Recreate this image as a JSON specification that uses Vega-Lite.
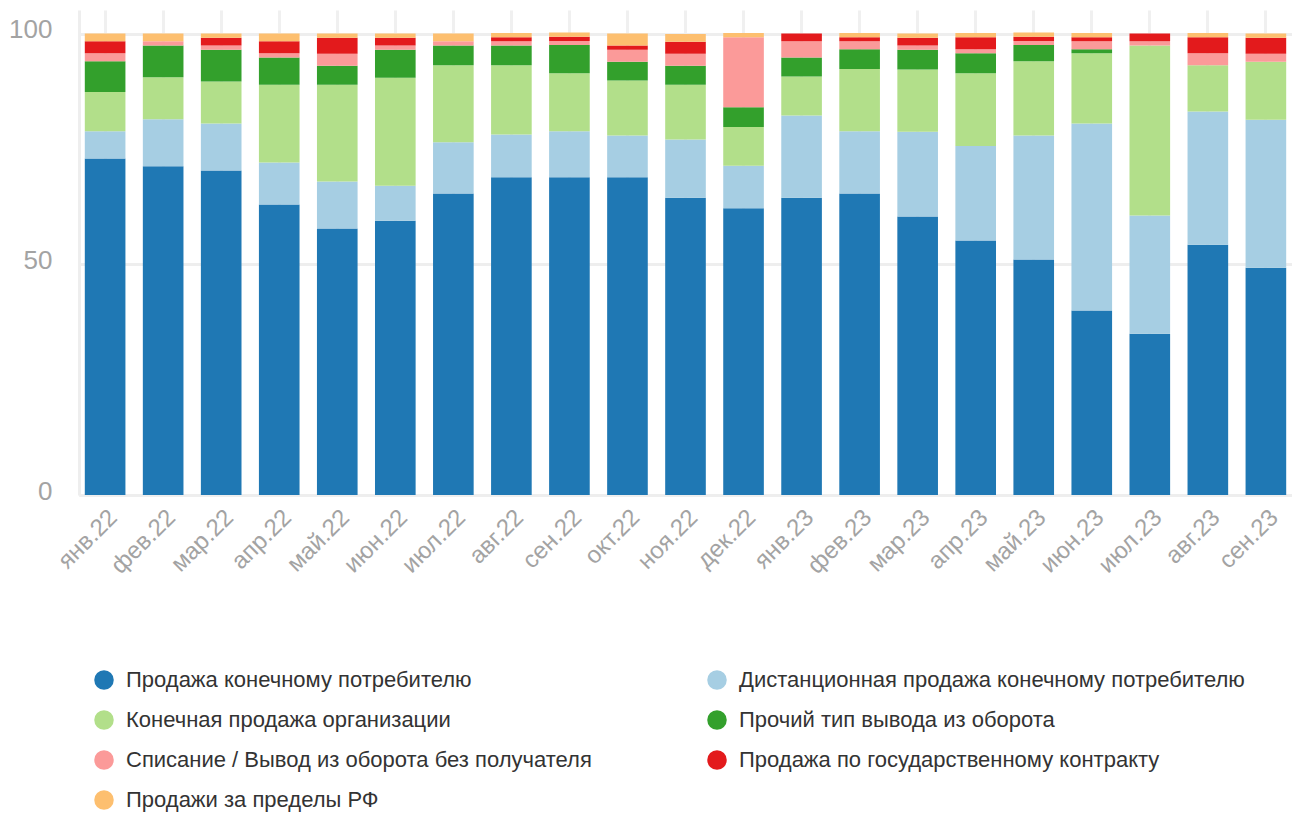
{
  "$schema": "https://vega.github.io/schema/vega-lite/v6.json",
  "width": 1213,
  "height": 485,
  "autosize": {"type": "none"},
  "padding": {"left": 79, "top": 10, "right": 0, "bottom": 319},
  "background": "#ffffff",
  "config": {
    "view": {"stroke": null},
    "font": "Liberation Sans"
  },
  "datasets": {
    "ряды": [
      {"тип": "Продажа конечному потребителю", "ранг": 1},
      {"тип": "Дистанционная продажа конечному потребителю", "ранг": 2},
      {"тип": "Конечная продажа организации", "ранг": 3},
      {"тип": "Прочий тип вывода из оборота", "ранг": 4},
      {"тип": "Списание / Вывод из оборота без получателя", "ранг": 5},
      {"тип": "Продажа по государственному контракту", "ранг": 6},
      {"тип": "Продажи за пределы РФ", "ранг": 7}
    ],
    "месяцы": [
      {"месяц": "янв.22", "Продажа конечному потребителю": 73.0, "Дистанционная продажа конечному потребителю": 5.9, "Конечная продажа организации": 8.5, "Прочий тип вывода из оборота": 6.7, "Списание / Вывод из оборота без получателя": 1.7, "Продажа по государственному контракту": 2.6, "Продажи за пределы РФ": 1.7},
      {"месяц": "фев.22", "Продажа конечному потребителю": 71.3, "Дистанционная продажа конечному потребителю": 10.2, "Конечная продажа организации": 9.1, "Прочий тип вывода из оборота": 6.9, "Списание / Вывод из оборота без получателя": 0.9, "Продажа по государственному контракту": 0, "Продажи за пределы РФ": 1.7},
      {"месяц": "мар.22", "Продажа конечному потребителю": 70.4, "Дистанционная продажа конечному потребителю": 10.2, "Конечная продажа организации": 9.1, "Прочий тип вывода из оборота": 6.9, "Списание / Вывод из оборота без получателя": 0.9, "Продажа по государственному контракту": 1.7, "Продажи за пределы РФ": 0.9},
      {"месяц": "апр.22", "Продажа конечному потребителю": 63.0, "Дистанционная продажа конечному потребителю": 9.1, "Конечная продажа организации": 16.9, "Прочий тип вывода из оборота": 5.9, "Списание / Вывод из оборота без получателя": 0.9, "Продажа по государственному контракту": 2.6, "Продажи за пределы РФ": 1.7},
      {"месяц": "май.22", "Продажа конечному потребителю": 57.8, "Дистанционная продажа конечному потребителю": 10.2, "Конечная продажа организации": 21.0, "Прочий тип вывода из оборота": 4.1, "Списание / Вывод из оборота без получателя": 2.6, "Продажа по государственному контракту": 3.5, "Продажи за пределы РФ": 0.9},
      {"месяц": "июн.22", "Продажа конечному потребителю": 59.5, "Дистанционная продажа конечному потребителю": 7.6, "Конечная продажа организации": 23.4, "Прочий тип вывода из оборота": 6.1, "Списание / Вывод из оборота без получателя": 0.9, "Продажа по государственному контракту": 1.7, "Продажи за пределы РФ": 0.9},
      {"месяц": "июл.22", "Продажа конечному потребителю": 65.4, "Дистанционная продажа конечному потребителю": 11.1, "Конечная продажа организации": 16.7, "Прочий тип вывода из оборота": 4.3, "Списание / Вывод из оборота без получателя": 0.9, "Продажа по государственному контракту": 0, "Продажи за пределы РФ": 1.7},
      {"месяц": "авг.22", "Продажа конечному потребителю": 68.9, "Дистанционная продажа конечному потребителю": 9.3, "Конечная продажа организации": 15.0, "Прочий тип вывода из оборота": 4.3, "Списание / Вывод из оборота без получателя": 0.9, "Продажа по государственному контракту": 0.9, "Продажи за пределы РФ": 0.9},
      {"месяц": "сен.22", "Продажа конечному потребителю": 68.9, "Дистанционная продажа конечному потребителю": 10.0, "Конечная продажа организации": 12.6, "Прочий тип вывода из оборота": 6.1, "Списание / Вывод из оборота без получателя": 0.9, "Продажа по государственному контракту": 0.9, "Продажи за пределы РФ": 0.9},
      {"месяц": "окт.22", "Продажа конечному потребителю": 68.9, "Дистанционная продажа конечному потребителю": 9.1, "Конечная продажа организации": 11.9, "Прочий тип вывода из оборота": 4.1, "Списание / Вывод из оборота без получателя": 2.6, "Продажа по государственному контракту": 0.9, "Продажи за пределы РФ": 2.6},
      {"месяц": "ноя.22", "Продажа конечному потребителю": 64.5, "Дистанционная продажа конечному потребителю": 12.6, "Конечная продажа организации": 11.9, "Прочий тип вывода из оборота": 4.1, "Списание / Вывод из оборота без получателя": 2.6, "Продажа по государственному контракту": 2.6, "Продажи за пределы РФ": 1.7},
      {"месяц": "дек.22", "Продажа конечному потребителю": 62.2, "Дистанционная продажа конечному потребителю": 9.2, "Конечная продажа организации": 8.4, "Прочий тип вывода из оборота": 4.3, "Списание / Вывод из оборота без получателя": 15.2, "Продажа по государственному контракту": 0, "Продажи за пределы РФ": 0.9},
      {"месяц": "янв.23", "Продажа конечному потребителю": 64.5, "Дистанционная продажа конечному потребителю": 17.8, "Конечная продажа организации": 8.5, "Прочий тип вывода из оборота": 4.1, "Списание / Вывод из оборота без получателя": 3.5, "Продажа по государственному контракту": 1.7, "Продажи за пределы РФ": 0},
      {"месяц": "фев.23", "Продажа конечному потребителю": 65.4, "Дистанционная продажа конечному потребителю": 13.5, "Конечная продажа организации": 13.5, "Прочий тип вывода из оборота": 4.3, "Списание / Вывод из оборота без получателя": 1.7, "Продажа по государственному контракту": 0.9, "Продажи за пределы РФ": 0.9},
      {"месяц": "мар.23", "Продажа конечному потребителю": 60.4, "Дистанционная продажа конечному потребителю": 18.4, "Конечная продажа организации": 13.5, "Прочий тип вывода из оборота": 4.3, "Списание / Вывод из оборота без получателя": 0.9, "Продажа по государственному контракту": 1.7, "Продажи за пределы РФ": 0.9},
      {"месяц": "апр.23", "Продажа конечному потребителю": 55.2, "Дистанционная продажа конечному потребителю": 20.5, "Конечная продажа организации": 15.8, "Прочий тип вывода из оборота": 4.3, "Списание / Вывод из оборота без получателя": 0.9, "Продажа по государственному контракту": 2.6, "Продажи за пределы РФ": 0.9},
      {"месяц": "май.23", "Продажа конечному потребителю": 51.1, "Дистанционная продажа конечному потребителю": 26.9, "Конечная продажа организации": 16.1, "Прочий тип вывода из оборота": 3.5, "Списание / Вывод из оборота без получателя": 0.9, "Продажа по государственному контракту": 0.9, "Продажи за пределы РФ": 0.9},
      {"месяц": "июн.23", "Продажа конечному потребителю": 40.0, "Дистанционная продажа конечному потребителю": 40.6, "Конечная продажа организации": 15.2, "Прочий тип вывода из оборота": 0.9, "Списание / Вывод из оборота без получателя": 1.7, "Продажа по государственному контракту": 0.9, "Продажи за пределы РФ": 0.9},
      {"месяц": "июл.23", "Продажа конечному потребителю": 35.0, "Дистанционная продажа конечному потребителю": 25.6, "Конечная продажа организации": 36.9, "Прочий тип вывода из оборота": 0, "Списание / Вывод из оборота без получателя": 0.9, "Продажа по государственному контракту": 1.7, "Продажи за пределы РФ": 0},
      {"месяц": "авг.23", "Продажа конечному потребителю": 54.3, "Дистанционная продажа конечному потребителю": 28.9, "Конечная продажа организации": 10.0, "Прочий тип вывода из оборота": 0, "Списание / Вывод из оборота без получателя": 2.6, "Продажа по государственному контракту": 3.5, "Продажи за пределы РФ": 0.9},
      {"месяц": "сен.23", "Продажа конечному потребителю": 49.3, "Дистанционная продажа конечному потребителю": 32.1, "Конечная продажа организации": 12.6, "Прочий тип вывода из оборота": 0, "Списание / Вывод из оборота без получателя": 1.7, "Продажа по государственному контракту": 3.5, "Продажи за пределы РФ": 0.9}
    ]
  },
  "data": {"name": "месяцы"},
  "transform": [
    {"fold": ["Продажа конечному потребителю", "Дистанционная продажа конечному потребителю", "Конечная продажа организации", "Прочий тип вывода из оборота", "Списание / Вывод из оборота без получателя", "Продажа по государственному контракту", "Продажи за пределы РФ"], "as": ["тип", "доля"]},
    {"lookup": "тип", "from": {"data": {"name": "ряды"}, "key": "тип", "fields": ["ранг"]}}
  ],
  "mark": {"type": "bar", "strokeWidth": 0},
  "encoding": {
    "x": {
      "field": "месяц",
      "type": "nominal",
      "sort": null,
      "scale": {"paddingInner": 0.3, "paddingOuter": 0.1},
      "axis": {
        "title": null,
        "labelAngle": -45,
        "labelFontSize": 24,
        "labelColor": "#a3a3a3",
        "labelFont": "Liberation Sans",
        "labelPadding": 10,
        "ticks": false,
        "domain": true,
        "domainColor": "#eeeeee",
        "domainWidth": 3,
        "grid": true,
        "gridColor": "#f0f0f0",
        "gridWidth": 3,
        "bandPosition": 0.5
      }
    },
    "y": {
      "field": "доля",
      "type": "quantitative",
      "stack": "zero",
      "scale": {"domain": [0, 105.2], "nice": false},
      "axis": {
        "title": null,
        "values": [0, 50, 100],
        "labelFontSize": 26,
        "labelColor": "#a3a3a3",
        "labelFont": "Liberation Sans",
        "labelPadding": 27,
        "labelOffset": -4,
        "ticks": false,
        "domain": true,
        "domainColor": "#eeeeee",
        "domainWidth": 3,
        "gridColor": "#eeeeee",
        "gridWidth": 3
      }
    },
    "color": {
      "field": "тип",
      "type": "nominal",
      "scale": {
        "domain": ["Продажа конечному потребителю", "Конечная продажа организации", "Списание / Вывод из оборота без получателя", "Продажи за пределы РФ", "Дистанционная продажа конечному потребителю", "Прочий тип вывода из оборота", "Продажа по государственному контракту"],
        "range": ["#1f78b4", "#b2df8a", "#fb9a99", "#fdbf6f", "#a6cee3", "#33a02c", "#e31a1c"]
      },
      "legend": {
        "title": null,
        "orient": "none",
        "legendX": 14,
        "legendY": 659,
        "columns": 2,
        "columnPadding": 114,
        "rowPadding": 18,
        "symbolType": "circle",
        "symbolSize": 380,
        "symbolStrokeWidth": 0,
        "symbolOpacity": 1,
        "labelFontSize": 22,
        "labelColor": "#333333",
        "labelFont": "Liberation Sans",
        "labelOffset": 11,
        "labelLimit": 700,
        "padding": 0
      }
    },
    "order": {"field": "ранг", "type": "quantitative", "sort": "ascending"}
  }
}
